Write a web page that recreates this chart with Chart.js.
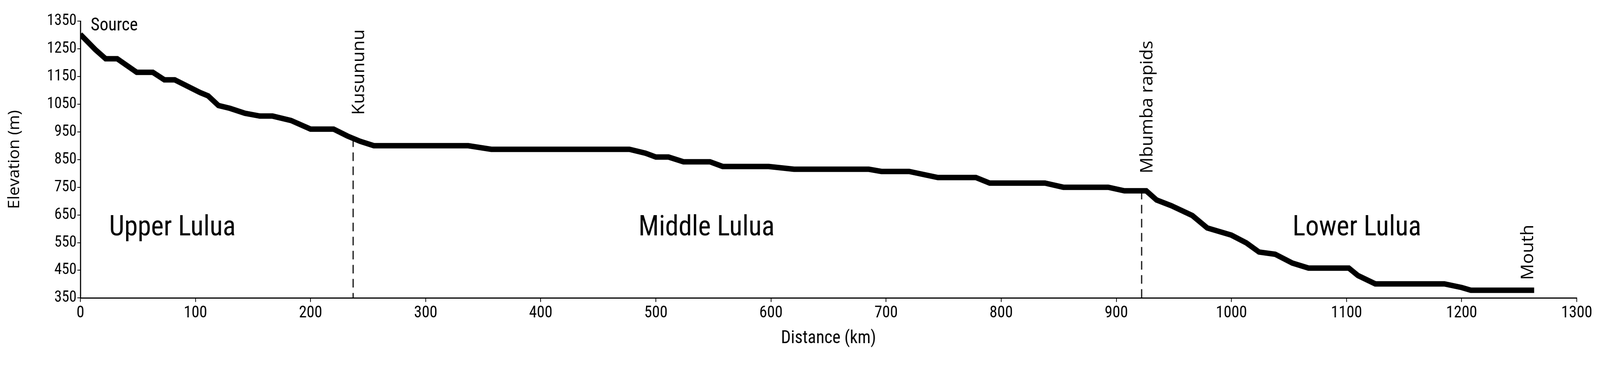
<!DOCTYPE html>
<html><head><meta charset="utf-8">
<script src="https://cdn.jsdelivr.net/npm/chart.js@4"></script>
<style>html,body{margin:0;padding:0;background:#fff;overflow:hidden}#w{width:4262px;height:935px;transform-origin:0 0}canvas{display:block}</style>
</head><body><div id="w"><canvas id="c" width="4262" height="935" style="width:4262px;height:935px"></canvas></div>
<script>
const distanceKm = [0,13,22,32,49,63,73,82,104,111,120,130,143,156,167,183,200,220,232,243,255,337,357,400,477,491,500,511,524,547,558,598,620,685,696,720,745,778,790,838,854,874,893,907,926,935,948,966,979,1000,1013,1024,1038,1053,1067,1102,1110,1125,1185,1200,1208,1263];
const elevationM = [1302,1247,1214,1214,1165,1165,1138,1138,1092,1080,1045,1035,1017,1007,1007,991,960,960,935,916,900,900,887,887,887,873,859,859,842,842,825,825,815,815,807,807,785,785,765,765,750,750,750,737,737,704,683,648,603,577,549,516,508,476,458,458,431,401,401,388,378,378];
const xTicks = [0,100,200,300,400,500,600,700,800,900,1000,1100,1200,1300];
const yTicks = [350,450,550,650,750,850,950,1050,1150,1250,1350];
const markers = [{name:'Kusununu', km:237, top:1011},{name:'Mbumba rapids', km:922, top:800}];
const regions = [{name:'Upper Lulua', km:80, elev:602},{name:'Middle Lulua', km:544, elev:602},{name:'Lower Lulua', km:1109, elev:602}];
const ends = [{name:'Source', km:9, elev:1333, rot:false},{name:'Mouth', km:1258, elev:415, rot:true}];

(function fit(){const s=document.getElementById('w').style;s.transform=`scale(${innerWidth/4262},${innerHeight/935})`;})();

const NARROW = '"Liberation Sans Narrow","Roboto Condensed",Roboto,sans-serif';
const ann = {
  id:'ann',
  afterDatasetsDraw(ch){
    const c=ch.ctx, xs=ch.scales.x, ys=ch.scales.y;
    c.save();
    c.strokeStyle='#000'; c.lineWidth=3; c.setLineDash([22,14]);
    markers.forEach(m=>{
      let e=elevationM[0];
      for(let i=1;i<distanceKm.length;i++){ if(distanceKm[i]>=m.km){const t=(m.km-distanceKm[i-1])/(distanceKm[i]-distanceKm[i-1]); e=elevationM[i-1]+t*(elevationM[i]-elevationM[i-1]); break;} }
      c.beginPath(); c.moveTo(xs.getPixelForValue(m.km), ys.getPixelForValue(e)); c.lineTo(xs.getPixelForValue(m.km), ys.getPixelForValue(350)); c.stroke();
    });
    c.setLineDash([]);
    c.fillStyle='#000';
    c.font='46px "Open Sans", sans-serif';
    markers.forEach(m=>{
      c.save(); c.translate(xs.getPixelForValue(m.km)+16, ys.getPixelForValue(m.top)); c.rotate(-Math.PI/2);
      c.textAlign='left'; c.textBaseline='middle'; c.fillText(m.name,0,0); c.restore();
    });
    ends.forEach(m=>{
      if(m.rot){ c.save(); c.translate(xs.getPixelForValue(m.km), ys.getPixelForValue(m.elev)); c.rotate(-Math.PI/2);
        c.textAlign='left'; c.textBaseline='middle'; c.fillText(m.name,0,0); c.restore(); }
      else { c.font='46px '+NARROW; c.textAlign='left'; c.textBaseline='middle'; c.fillText(m.name, xs.getPixelForValue(m.km), ys.getPixelForValue(m.elev)); c.font='46px "Open Sans", sans-serif'; }
    });
    c.font='72px '+NARROW; c.textAlign='center'; c.textBaseline='middle';
    regions.forEach(r=>c.fillText(r.name, xs.getPixelForValue(r.km), ys.getPixelForValue(r.elev)));
    c.restore();
  }
};
new Chart(document.getElementById('c'),{
  type:'line',
  data:{datasets:[{data:distanceKm.map((d,i)=>({x:d,y:elevationM[i]})),borderColor:'#000',borderWidth:14,pointRadius:0,tension:0,fill:false,borderJoinStyle:'miter'}]},
  options:{
    responsive:false,animation:false,devicePixelRatio:1,
    layout:{padding:{left:10,right:62,top:54,bottom:36}},
    plugins:{legend:{display:false},tooltip:{enabled:false}},
    scales:{
      x:{type:'linear',min:0,max:1300,afterBuildTicks:a=>{a.ticks=xTicks.map(v=>({value:v}))},
        border:{color:'#000',width:3},
        grid:{drawOnChartArea:false,color:'#000',tickLength:10,lineWidth:2},
        ticks:{color:'#000',font:{size:42,family:NARROW},padding:4,maxRotation:0,callback:v=>String(v)},
        title:{display:true,text:'Distance (km)',color:'#000',font:{size:46,family:NARROW},padding:{top:8}}},
      y:{type:'linear',min:350,max:1350,afterBuildTicks:a=>{a.ticks=yTicks.map(v=>({value:v}))},
        afterFit:a=>{a.width=204},
        border:{color:'#000',width:3},
        grid:{drawOnChartArea:false,color:'#000',tickLength:8,lineWidth:2},
        ticks:{color:'#000',font:{size:40,family:NARROW},padding:2,callback:v=>String(v)},
        title:{display:true,text:'Elevation (m)',color:'#000',font:{size:42,family:'"Open Sans",sans-serif'},padding:{bottom:6}}}
    }
  },
  plugins:[ann]
});
</script></body></html>
